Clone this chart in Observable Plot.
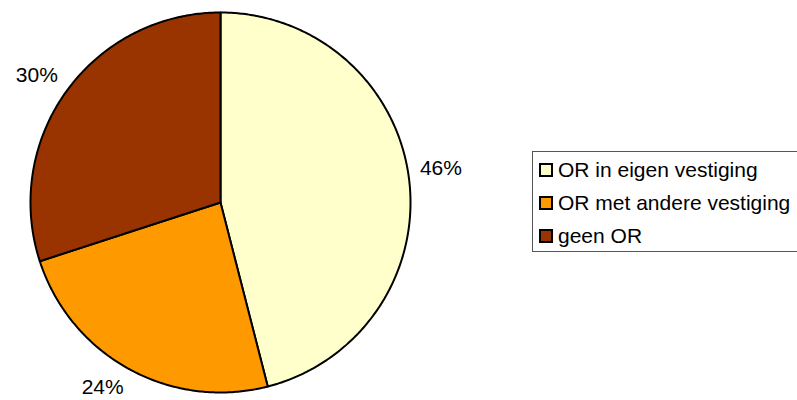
<!DOCTYPE html>
<html>
<head>
<meta charset="utf-8">
<script src="https://cdn.jsdelivr.net/npm/d3@7"></script>
<script src="https://cdn.jsdelivr.net/npm/@observablehq/plot@0.6"></script>
<style>
  html, body { margin: 0; padding: 0; background: #fff; }
  #wrap { position: relative; width: 797px; height: 400px; overflow: hidden; font-family: "Liberation Sans", Arial, sans-serif; }
  #legend { position: absolute; left: 532px; top: 151px; width: 300px; height: 101px; border: 1px solid #555; box-sizing: border-box; background: #fff; }
  .row { position: absolute; left: 6px; height: 24px; display: flex; align-items: center; font-size: 21px; color: #000; white-space: nowrap; }
  .sw { width: 10px; height: 10px; border: 2px solid #000; margin-right: 5px; flex: none; }
</style>
</head>
<body>
<div id="wrap"></div>
<script>
const categories = ["OR in eigen vestiging", "OR met andere vestiging", "geen OR"];
const values = [46, 24, 30];
const colors = ["#FFFFCC", "#FF9900", "#993300"];

const R = 190; // pie radius in px
const pie = d3.pie().sort(null).value(d => d.value)(categories.map((c, i) => ({category: c, value: values[i]})));

// Build slice polygons in unit coordinates (angle clockwise from top)
const polys = [];
pie.forEach(s => {
  const n = Math.max(2, Math.ceil((s.endAngle - s.startAngle) / 0.01));
  polys.push({category: s.data.category, x: 0, y: 0});
  for (let j = 0; j <= n; j++) {
    const a = s.startAngle + (s.endAngle - s.startAngle) * j / n;
    polys.push({category: s.data.category, x: Math.sin(a), y: Math.cos(a)});
  }
  polys.push({category: s.data.category, x: 0, y: 0});
});
// Labels: box corner nearest the centre touches a circle slightly outside the pie
const gap = 11, hw = 21, hh = 9;
const labels = pie.map(s => {
  const a = (s.startAngle + s.endAngle) / 2;
  const sx = Math.sin(a), cy = Math.cos(a);
  const ax = (R + gap) * sx + Math.sign(sx) * hw;
  const ay = (R + gap) * cy + Math.sign(cy) * hh;
  return {text: s.data.value + "%", x: ax / R, y: ay / R};
});

const chart = Plot.plot({
  width: 797,
  height: 400,
  margin: 0,
  x: {domain: [-1, 1], range: [30, 410], axis: null},
  y: {domain: [-1, 1], range: [392, 12], axis: null},
  color: {domain: categories, range: colors},
  style: {fontFamily: "Liberation Sans, Arial, sans-serif", background: "#fff"},
  marks: [
    Plot.line(polys, {x: "x", y: "y", z: "category", fill: "category", stroke: "#000", strokeWidth: 2, strokeLinejoin: "round", curve: "linear"}),
    Plot.text(labels, {x: "x", y: "y", text: "text", fontSize: 21, fill: "#000"})
  ]
});
const wrap = document.getElementById("wrap");
wrap.appendChild(chart);

const legend = document.createElement("div");
legend.id = "legend";
categories.forEach((c, i) => {
  const row = document.createElement("div");
  row.className = "row";
  row.style.top = (6 + i * 33) + "px";
  const sw = document.createElement("div");
  sw.className = "sw";
  sw.style.background = colors[i];
  row.appendChild(sw);
  const t = document.createElement("span");
  t.textContent = c;
  row.appendChild(t);
  legend.appendChild(row);
});
wrap.appendChild(legend);
</script>
</body>
</html>
